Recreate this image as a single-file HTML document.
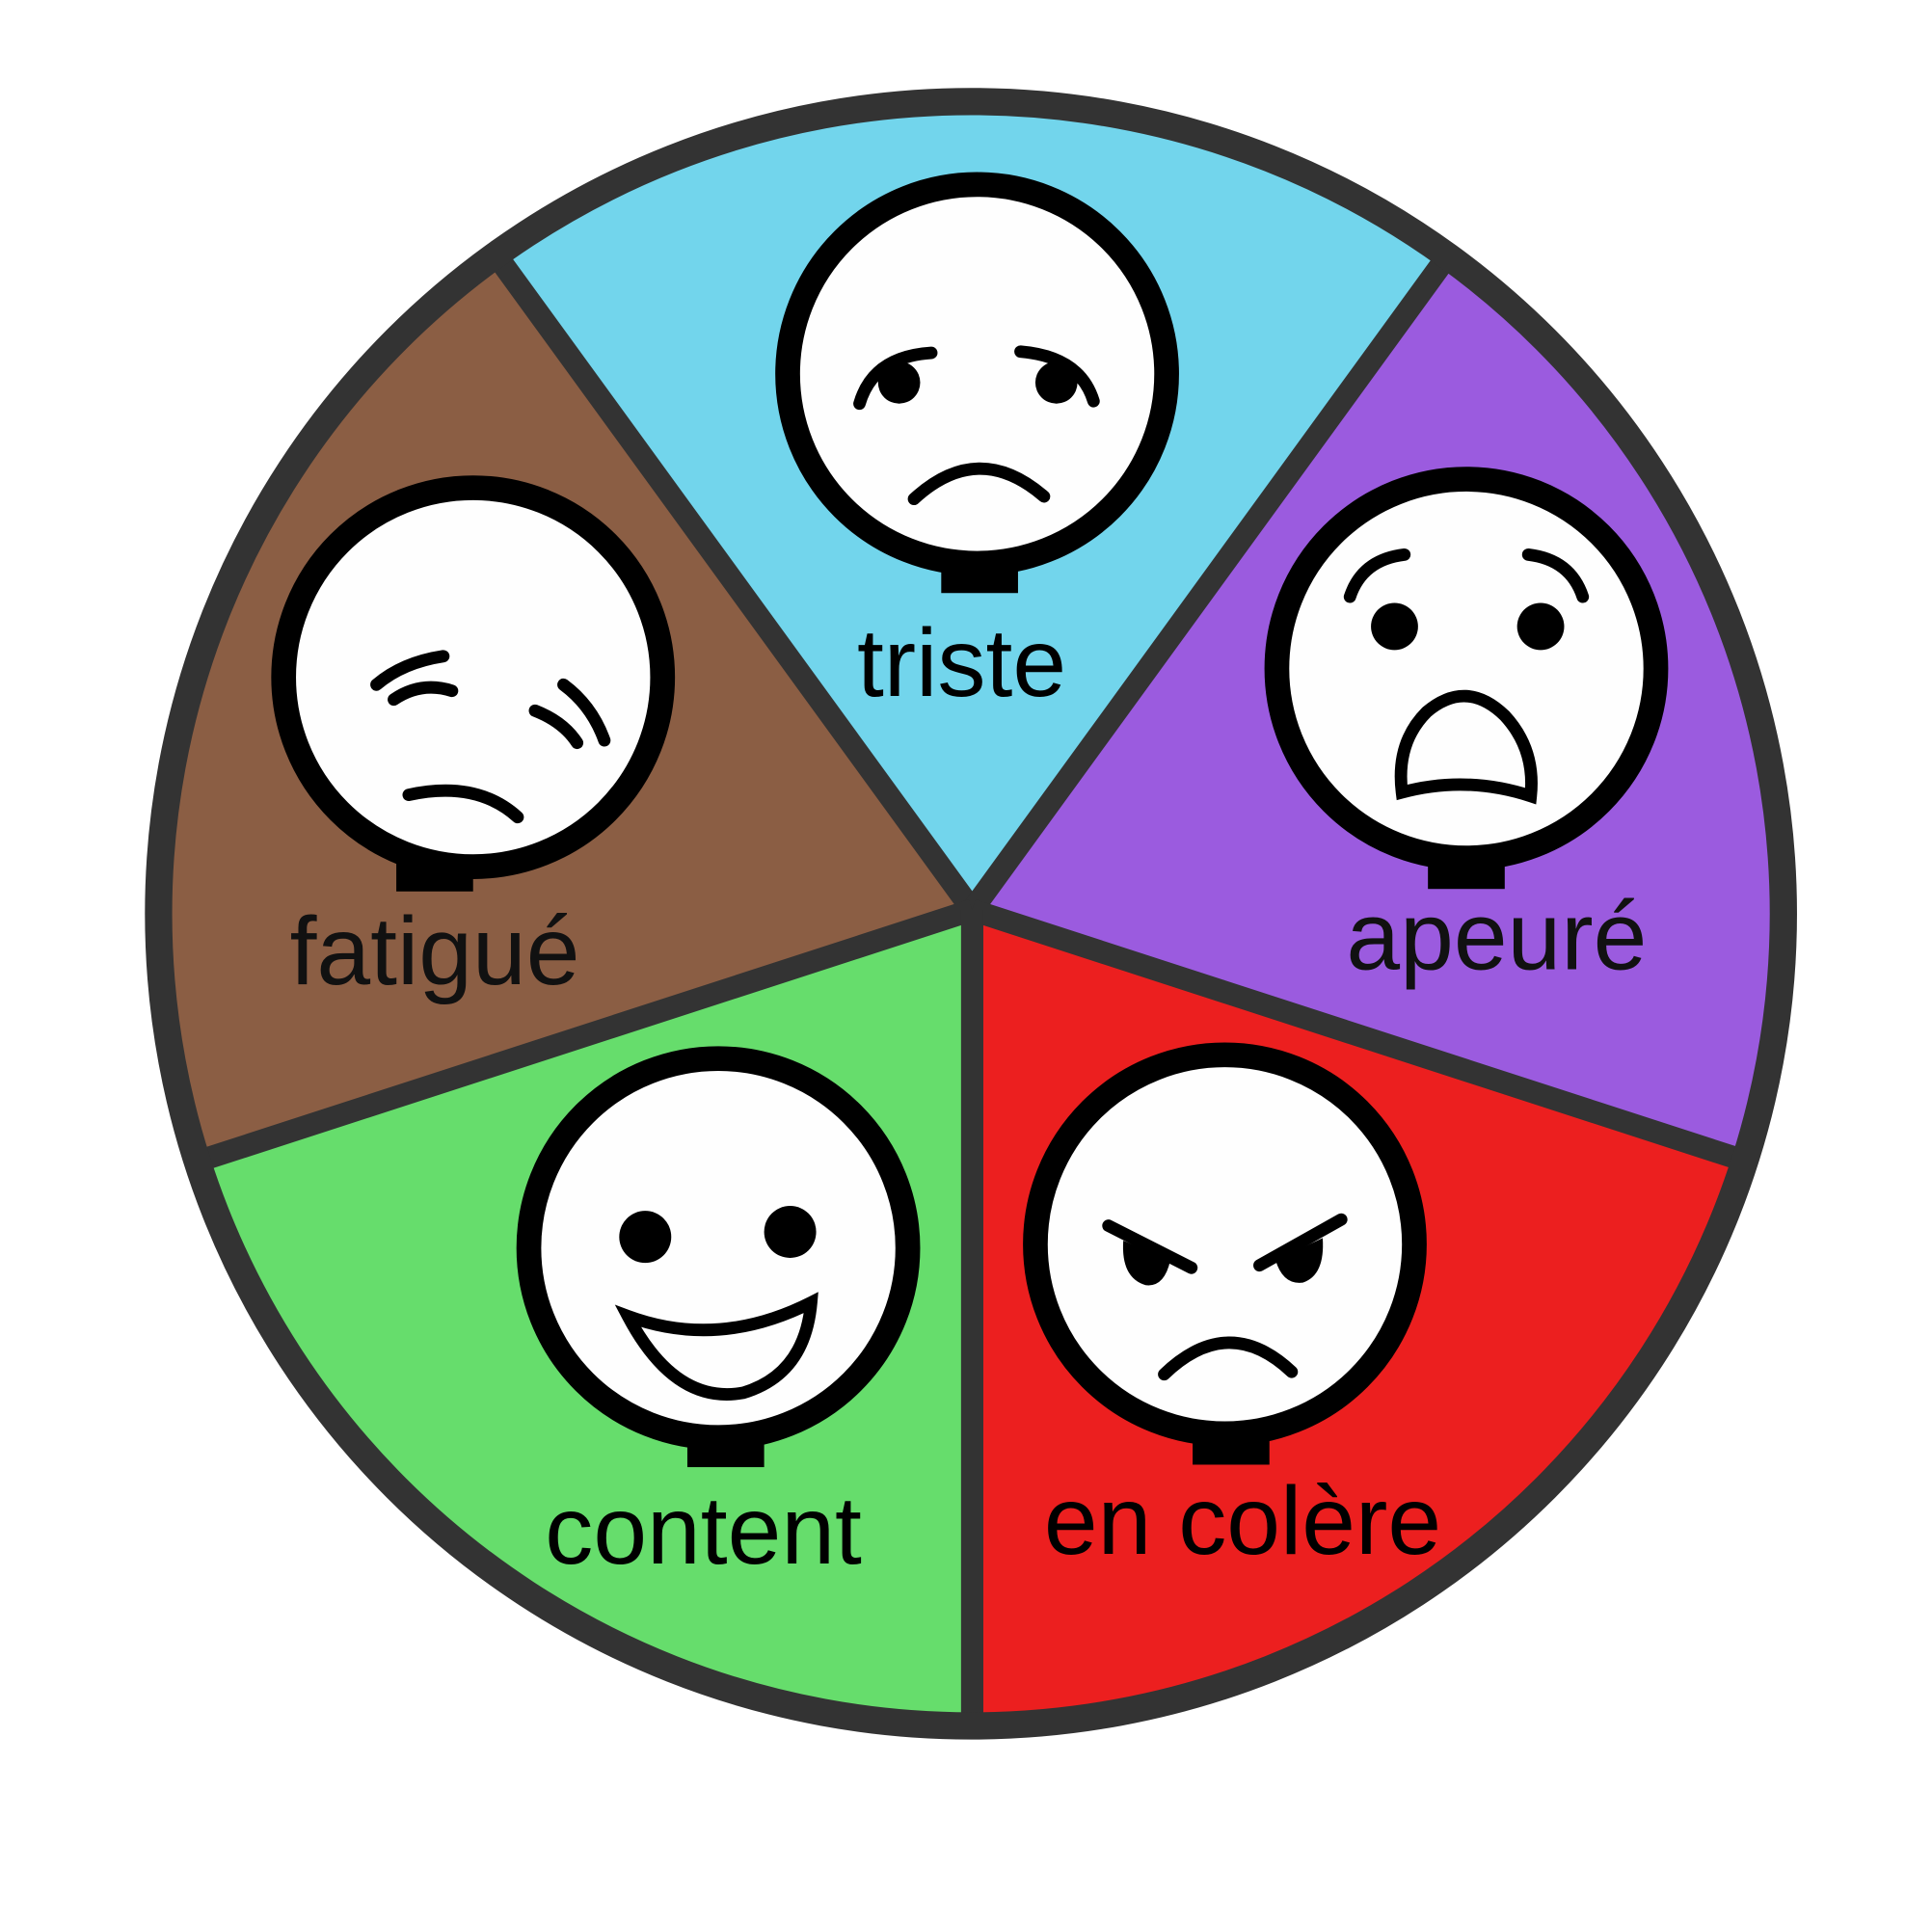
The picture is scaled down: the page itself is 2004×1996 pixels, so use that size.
<!DOCTYPE html>
<html><head><meta charset="utf-8"><style>html,body{margin:0;padding:0;background:#fff;width:2004px;height:1996px;overflow:hidden}svg{display:block}</style></head><body>
<svg width="2004" height="1996" viewBox="0 0 1560 1554" preserveAspectRatio="none" xmlns="http://www.w3.org/2000/svg">
<defs><clipPath id="c"><circle cx="784" cy="738" r="660"/></clipPath></defs>
<g clip-path="url(#c)">
<polygon points="785,735 -410,-910 1980,-910" fill="#72d5ec"/>
<polygon points="785,735 1980,-910 2000,1124 " fill="#9b5bdf"/>
<polygon points="785,735 2000,1124 2000,2400 785,2400" fill="#ec1f1f"/>
<polygon points="785,735 785,2400 -500,2400 -430,1130" fill="#66dd6c"/>
<polygon points="785,735 -430,1130 -500,-1000 -410,-910" fill="#8b5e44"/>
</g>
<g stroke="#333" stroke-width="18" stroke-linecap="butt">
<line x1="785" y1="735" x2="405" y2="212"/>
<line x1="785" y1="735" x2="1165" y2="212"/>
<line x1="785" y1="735" x2="160" y2="938"/>
<line x1="785" y1="735" x2="1410" y2="938"/>
<line x1="785" y1="735" x2="785" y2="1398"/>
</g>
<circle cx="784" cy="738" r="656" fill="none" stroke="#333" stroke-width="22"/>
<g fill="#fefefe" stroke="#000" stroke-width="20">
<circle cx="789" cy="302" r="153"/>
<circle cx="382" cy="547" r="153"/>
<circle cx="1184" cy="540" r="153"/>
<circle cx="580" cy="1008" r="153"/>
<circle cx="989" cy="1005" r="153"/>
</g>
<g fill="#000">
<rect x="760" y="455" width="62" height="24"/>
<rect x="320" y="696" width="62" height="24"/>
<rect x="1153" y="695" width="62" height="23"/>
<rect x="555" y="1160" width="62" height="25"/>
<rect x="963" y="1158" width="62" height="25"/>
</g>
<g fill="none" stroke="#000" stroke-width="10" stroke-linecap="round">
<path d="M694 326 Q705 288 752 285"/><path d="M824 284 Q872 288 883 324"/>
<path d="M738 403 Q790 355 843 401"/>
<path d="M304 553 Q325 535 358 530"/><path d="M318 565 Q340 550 365 558"/>
<path d="M455 553 Q478 570 488 598"/><path d="M432 574 Q455 583 466 600"/>
<path d="M330 642 Q385 630 418 660"/>
<path d="M1090 482 Q1100 452 1134 448"/><path d="M1234 448 Q1268 452 1278 482"/>
<path d="M1132 640 Q1127 600 1152 575 Q1184 548 1215 578 Q1240 605 1236 643 Q1184 626 1132 640 Z"/>
<path d="M895 990 L962 1024"/><path d="M1083 985 L1017 1022"/>
<path d="M940 1110 Q992 1060 1043 1108"/>
<path d="M507 1063 Q580 1090 655 1052 Q650 1110 600 1125 Q545 1135 507 1063 Z"/>
</g>
<g fill="#000">
<circle cx="726" cy="309" r="17"/><circle cx="853" cy="309" r="17"/>
<circle cx="1126" cy="506" r="19"/><circle cx="1244" cy="506" r="19"/>
<circle cx="521" cy="999" r="21"/><circle cx="638" cy="995" r="21"/>
<path d="M907 1002 L945 1018 Q940 1040 925 1038 Q905 1032 907 1002Z"/>
<path d="M1068 1000 L1030 1018 Q1036 1038 1052 1036 Q1070 1030 1068 1000Z"/>
</g>
<g font-family="Liberation Sans, sans-serif" font-size="78" fill="#000">
<text x="692" y="562">triste</text>
<text x="234" y="795" fill="#111">fatigué</text>
<text x="1087" y="783" fill="#111">apeuré</text>
<text x="440" y="1263">content</text>
<text x="843" y="1255">en colère</text>
</g>
</svg>
</body></html>
